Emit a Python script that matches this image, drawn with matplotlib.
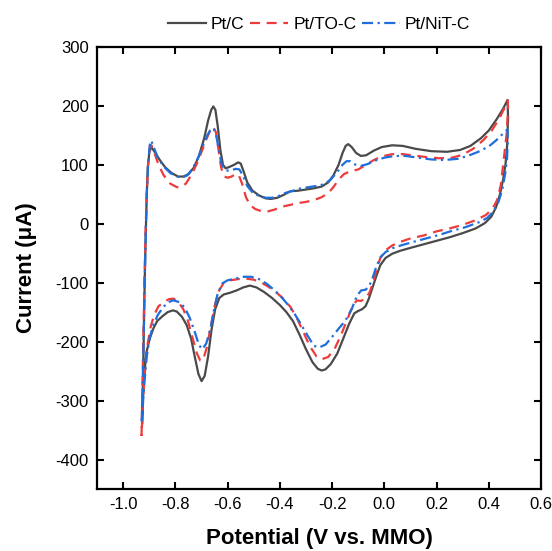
import matplotlib
matplotlib.use("Agg")
import matplotlib.pyplot as plt

plt.rcParams["font.family"] = ["Liberation Sans", "DejaVu Sans"]
plt.rcParams["axes.unicode_minus"] = False

# Pt/C  (anodic scan then cathodic scan)
ptc_x = [-0.928, -0.925, -0.922, -0.918, -0.914, -0.910, -0.906, -0.900, -0.893, -0.880,
         -0.860, -0.840, -0.815, -0.790, -0.770, -0.750, -0.730, -0.710, -0.690, -0.675,
         -0.663, -0.655, -0.647, -0.638, -0.628, -0.618, -0.608, -0.595, -0.575, -0.560,
         -0.550, -0.540, -0.525, -0.505, -0.480, -0.455, -0.435, -0.410, -0.385, -0.360,
         -0.330, -0.300, -0.270, -0.240, -0.215, -0.195, -0.175, -0.160, -0.148, -0.138,
         -0.125, -0.108, -0.090, -0.070, -0.040, -0.010, 0.030, 0.070, 0.120, 0.180,
         0.240, 0.290, 0.330, 0.370, 0.400, 0.430, 0.455, 0.472,
         0.474, 0.470, 0.464, 0.455, 0.443, 0.428, 0.410, 0.385, 0.350, 0.300,
         0.250, 0.200, 0.150, 0.100, 0.060, 0.030, 0.005, -0.015, -0.030, -0.045,
         -0.060, -0.072, -0.085, -0.100, -0.115, -0.135, -0.155, -0.180, -0.205, -0.225,
         -0.240, -0.255, -0.275, -0.300, -0.325, -0.350, -0.375, -0.400, -0.430, -0.460,
         -0.490, -0.515, -0.540, -0.565, -0.590, -0.615, -0.632, -0.648, -0.662, -0.675,
         -0.688, -0.700, -0.712, -0.725, -0.740, -0.757, -0.775, -0.795, -0.810, -0.830,
         -0.850, -0.870, -0.885, -0.900, -0.912, -0.920, -0.925, -0.928]
ptc_y = [-338, -280, -200, -100, -20, 50, 95, 122, 130, 122,
         108, 96, 86, 80, 80, 84, 95, 115, 145, 175,
         193, 199, 193, 165, 125, 100, 94, 96, 100, 104,
         102, 90, 70, 56, 48, 43, 42, 44, 49, 55,
         56, 58, 60, 63, 70, 82, 100, 120, 132, 135,
         130, 120, 115, 116, 124, 130, 133, 132, 127, 123,
         122, 125, 132, 145, 158, 177, 195, 210,
         180, 130, 100, 75, 50, 28, 12, 1, -8, -16,
         -23, -29, -35, -41, -46, -51, -58, -70, -88, -108,
         -128, -140, -145, -148, -152, -170, -192, -220, -238, -247,
         -249, -246, -235, -213, -188, -165, -150, -138, -126, -116,
         -108, -105, -108, -113, -117, -120, -126, -145, -180, -225,
         -258, -267, -255, -228, -195, -172, -158, -149, -147, -150,
         -157, -165, -178, -197, -220, -260, -300, -338]

# Pt/TO-C
pto_x = [-0.930, -0.927, -0.923, -0.919, -0.915, -0.910, -0.905, -0.899, -0.892, -0.882,
         -0.865, -0.845, -0.820, -0.795, -0.780, -0.760, -0.740, -0.720, -0.700, -0.680,
         -0.665, -0.655, -0.645, -0.635, -0.625, -0.613, -0.600, -0.585, -0.570, -0.558,
         -0.545, -0.530, -0.515, -0.495, -0.470, -0.445, -0.420, -0.390, -0.360, -0.330,
         -0.300, -0.270, -0.240, -0.215, -0.195, -0.175, -0.155, -0.130, -0.100, -0.070,
         -0.040, -0.010, 0.030, 0.070, 0.110, 0.160, 0.210, 0.260, 0.300, 0.340,
         0.380, 0.410, 0.440, 0.460, 0.473,
         0.474, 0.468, 0.458, 0.446, 0.432, 0.415, 0.390, 0.350, 0.300, 0.250,
         0.200, 0.150, 0.100, 0.060, 0.030, 0.005, -0.015, -0.028, -0.040, -0.055,
         -0.070, -0.090, -0.105, -0.120, -0.140, -0.165, -0.190, -0.215, -0.240, -0.260,
         -0.285, -0.310, -0.335, -0.360, -0.385, -0.410, -0.440, -0.470, -0.500, -0.530,
         -0.560, -0.590, -0.615, -0.635, -0.650, -0.665, -0.680, -0.695, -0.705, -0.718,
         -0.735, -0.752, -0.770, -0.790, -0.808, -0.825, -0.845, -0.865, -0.882, -0.895,
         -0.907, -0.916, -0.923, -0.930]
pto_y = [-360, -290, -200, -100, -20, 50, 100, 127, 133, 122,
         100, 82, 68, 62, 62, 68, 82, 100, 122, 145,
         160, 164, 155, 125, 95, 80, 78, 80, 84, 83,
         68, 45, 32, 25, 21, 21, 24, 29, 32, 35,
         37, 40, 45, 52, 62, 75, 84, 89, 92, 100,
         108, 114, 118, 118, 116, 113, 111, 112, 117, 127,
         142, 157, 178, 196, 209,
         195, 150, 112, 65, 40, 26, 15, 6, -2, -8,
         -13, -20, -25, -31, -37, -45, -58, -75, -95, -115,
         -127, -131, -130, -138, -160, -188, -212, -226, -230, -225,
         -208, -184, -160, -141, -128, -118, -108, -100, -95, -93,
         -94, -96, -100, -115, -140, -175, -210, -232, -232, -220,
         -193, -165, -145, -132, -127, -128, -133, -140, -155, -175,
         -205, -245, -290, -360]

# Pt/NiT-C
pni_x = [-0.929, -0.926, -0.922, -0.918, -0.914, -0.910, -0.905, -0.899, -0.893, -0.885,
         -0.868, -0.845, -0.820, -0.795, -0.775, -0.755, -0.735, -0.715, -0.695, -0.678,
         -0.665, -0.655, -0.645, -0.635, -0.625, -0.613, -0.600, -0.585, -0.568, -0.555,
         -0.540, -0.525, -0.505, -0.480, -0.455, -0.430, -0.405, -0.380, -0.350, -0.320,
         -0.290, -0.260, -0.230, -0.205, -0.180, -0.160, -0.145, -0.130, -0.110, -0.090,
         -0.065, -0.035, 0.000, 0.040, 0.080, 0.130, 0.180, 0.230, 0.280, 0.320,
         0.360, 0.400, 0.430, 0.455, 0.472,
         0.473, 0.470, 0.463, 0.452, 0.438, 0.420, 0.395, 0.360, 0.310, 0.260,
         0.210, 0.160, 0.110, 0.070, 0.035, 0.005, -0.015, -0.030, -0.045, -0.058,
         -0.072, -0.088, -0.105, -0.125, -0.150, -0.175, -0.200, -0.225, -0.250, -0.270,
         -0.295, -0.320, -0.345, -0.370, -0.395, -0.420, -0.450, -0.480, -0.510, -0.540,
         -0.570, -0.600, -0.620, -0.638, -0.652, -0.666, -0.682, -0.697, -0.710, -0.725,
         -0.745, -0.765, -0.785, -0.808, -0.828, -0.848, -0.868, -0.885, -0.898, -0.910,
         -0.918, -0.924, -0.929]
pni_y = [-335, -280, -200, -100, -20, 50, 100, 132, 141, 132,
         112, 97, 86, 80, 78, 82, 93, 110, 132, 150,
         160, 162, 152, 128, 104, 92, 90, 91, 93, 92,
         80, 64, 53, 47, 44, 44, 47, 52, 56, 60,
         62, 64, 67, 75, 88, 100, 106, 106, 100, 98,
         101, 107, 112, 115, 115, 112, 109, 108, 110, 115,
         122, 131, 142, 153, 160,
         140, 110, 85, 58, 38, 22, 10, 2, -6, -12,
         -19, -25, -31, -36, -41, -48, -57, -72, -92, -106,
         -112, -113, -122, -145, -165, -178, -192, -205, -210, -207,
         -189, -170, -152, -137, -124, -113, -102, -94, -90, -90,
         -93, -96, -101, -118, -145, -178, -203, -213, -206, -185,
         -160, -142, -133, -130, -133, -142, -155, -172, -192, -225,
         -265, -300, -335]

labels = ["Pt/C", "Pt/TO-C", "Pt/NiT-C"]
xticks = [-1.0, -0.8, -0.6, -0.4, -0.2, 0.0, 0.2, 0.4, 0.6]
yticks = [-400, -300, -200, -100, 0, 100, 200, 300]

fig = plt.figure(figsize=(5.52, 5.51), dpi=100)
ax = fig.add_axes([0.176, 0.1125, 0.804, 0.8025])

ax.plot(ptc_x, ptc_y, color="#4a4a4a", lw=1.6, label=labels[0])
ax.plot(pto_x, pto_y, color="#ee3b3b", lw=1.6, ls=(0, (4.5, 3)), label=labels[1])
ax.plot(pni_x, pni_y, color="#1e6fdc", lw=1.6, ls=(0, (5, 2, 1, 2)), label=labels[2])

ax.set_xlim(-1.1, 0.6)
ax.set_ylim(-450, 300)
ax.set_xticks(xticks)
ax.set_xticklabels([f"{t:.1f}" for t in xticks])
ax.set_yticks(yticks)
ax.tick_params(direction="in", length=5, width=1.5, top=True, right=True,
               labelsize=12, pad=6)
for s in ax.spines.values():
    s.set_linewidth(1.6)

ax.set_xlabel("Potential (V vs. MMO)", fontsize=16, fontweight="bold", labelpad=11)
ax.set_ylabel("Current (\u03bcA)", fontsize=16, fontweight="bold", labelpad=13)

ax.legend(loc="lower center", bbox_to_anchor=(0.5, 1.0), ncol=3, frameon=False,
          fontsize=12.5, handlelength=2.2, columnspacing=0.3, handletextpad=0.3,
          borderaxespad=0.45)

fig.savefig("out.png", dpi=100)
